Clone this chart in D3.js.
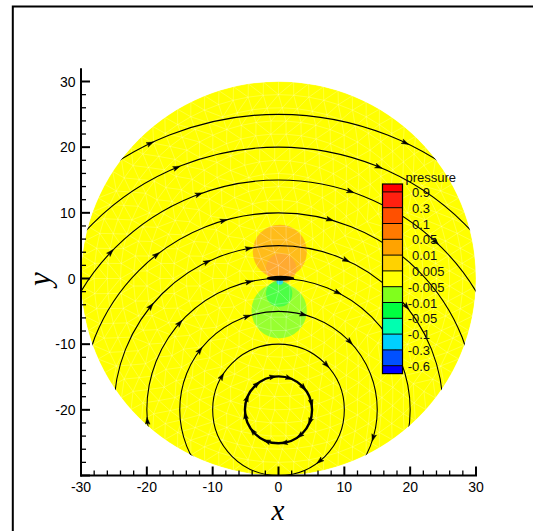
<!DOCTYPE html>
<html><head><meta charset="utf-8">
<script src="https://cdn.jsdelivr.net/npm/d3@7"></script>
<style>html,body{margin:0;padding:0;background:#fff;} svg{display:block;}</style>
</head><body>
<svg id="chart" width="533" height="531"></svg>
<script>
// Pressure contour levels of the legend, top to bottom
const levels = [0.9, 0.3, 0.1, 0.05, 0.01, 0.005, -0.005, -0.01, -0.05, -0.1, -0.3, -0.6];
const levelLabels = ["0.9", "0.3", "0.1", "0.05", "0.01", "0.005", "-0.005", "-0.01", "-0.05", "-0.1", "-0.3", "-0.6"];
// Flood colours: above 0.9, each interval between levels, below -0.6
const bandColors = ["#ff0000", "#ff2010", "#ff5000", "#ff7a00", "#ffa300", "#ffd200", "#ffff00",
                    "#80ff1c", "#00ff40", "#00ffb0", "#00d0ff", "#0050ff", "#0000ff"];

// Axis ticks
const xTicks = [-30, -20, -10, 0, 10, 20, 30];
const xTickLabels = ["-30", "-20", "-10", "0", "10", "20", "30"];
const yTicks = [-20, -10, 0, 10, 20, 30];
const yTickLabels = ["-20", "-10", "0", "10", "20", "30"];

// Computational domain: disk of radius 30 about the origin
const domainRadius = 30;

// Pressure regions around the dipole at the origin (centre x, y, radius, pressure)
const pressureBlobs = [
  { cx: 0.2, cy: 4.1, r: 4.1, p: 0.02 },
  { cx: 0.4, cy: 1.5, r: 2.3, p: 0.06 },
  { cx: 0.1, cy: -4.9, r: 4.2, p: -0.007 },
  { cx: 0.1, cy: -2.3, r: 2.0, p: -0.02 },
  { cx: 0.2, cy: -0.45, r: 0.5, p: -0.15 }
];
// Dense streamline core at the dipole (centre x, y, half-width, half-height)
const dipoleCore = [0.3, 0.05, 2.1, 0.38];

// Streamlines: circles about the vortex centre, clipped to the domain
const vortexCenter = [0, -20];
const streamRadii = [10, 15, 20, 25, 30, 35, 40, 45];
const vortexRingRadius = 5.1;

// Arrowheads along streamlines: [radius, angle in degrees about the vortex centre]
const streamArrows = [
  [45, 115.7], [45, 64.7],
  [40, 112.8], [40, 67.7],
  [35, 136.8], [35, 110.3], [35, 71.9], [35, 47],
  [30, 128.2], [30, 106.2], [30, 75],
  [25, 141], [25, 115.8], [25, 100.5], [25, 65.8], [25, 39],
  [20, 185], [20, 138.8], [20, 103], [20, 63.3],
  [15, 208.6], [15, 143], [15, 108.6], [15, 75.6], [15, 43.9], [15, -16.3],
  [10, 149.7], [10, 43.4], [10, -51],
  [5.1, 100], [5.1, 72], [5.1, 42], [5.1, 12], [5.1, -20], [5.1, -50], [5.1, -80],
  [5.1, -110], [5.1, -140], [5.1, -170], [5.1, 160], [5.1, 130]
];

const svg = d3.select("#chart");
const x = d3.scaleLinear().domain([-30, 30]).range([81, 476]);
const y = d3.scaleLinear().domain([-30, 30]).range([475.5, 81.5]);
const kx = x(1) - x(0), ky = y(0) - y(1);

function bandColor(p) {
  const i = levels.findIndex(l => p > l);
  return bandColors[i < 0 ? bandColors.length - 1 : i];
}

// Outer frame
svg.append("rect").attr("x", 12.8).attr("y", 6.5).attr("width", 600).attr("height", 600)
  .attr("fill", "none").attr("stroke", "#000").attr("stroke-width", 2);

// Clip to the domain disk
svg.append("defs").append("clipPath").attr("id", "disk")
  .append("ellipse").attr("cx", x(0)).attr("cy", y(0))
  .attr("rx", domainRadius * kx).attr("ry", domainRadius * ky);

const plot = svg.append("g").attr("clip-path", "url(#disk)");

// Background flood (pressure near zero)
plot.append("ellipse").attr("cx", x(0)).attr("cy", y(0))
  .attr("rx", domainRadius * kx).attr("ry", domainRadius * ky)
  .attr("fill", bandColor(0));

// Contour regions near the dipole, rendered translucent
const blobOpacity = [0.8, 0.5, 0.9, 0.6, 0.85];
const blobs = plot.append("g");
blobs.selectAll("ellipse.blob").data(pressureBlobs).join("ellipse").attr("class", "blob")
  .attr("cx", d => x(d.cx)).attr("cy", d => y(d.cy))
  .attr("rx", d => d.r * kx).attr("ry", d => d.r * ky)
  .attr("fill", d => bandColor(d.p))
  .attr("fill-opacity", (d, i) => blobOpacity[i]);
blobs.selectAll("ellipse.haze").data(pressureBlobs.slice(0, 3)).join("ellipse").attr("class", "haze")
  .attr("cx", d => x(d.cx)).attr("cy", d => y(d.cy))
  .attr("rx", d => d.r * kx).attr("ry", d => d.r * ky)
  .attr("fill", "#ffffff").attr("fill-opacity", 0.1);

// Triangular mesh of the domain (rings of nodes)
const nodes = [[x(0), y(0)]];
for (let i = 1; i <= 15; i++) {
  const rr = i * 2;
  const n = Math.max(6, Math.round(2 * Math.PI * rr / 2.3));
  const off = (i % 2) * 0.5;
  for (let j = 0; j < n; j++) {
    const a = (j + off) / n * 2 * Math.PI;
    nodes.push([x(rr * Math.cos(a)), y(rr * Math.sin(a))]);
  }
}
const delaunay = d3.Delaunay.from(nodes);
plot.append("path").attr("d", delaunay.render())
  .attr("fill", "none").attr("stroke", "#ffffff").attr("stroke-opacity", 0.4).attr("stroke-width", 0.6);

// Streamlines
const vcx = x(vortexCenter[0]), vcy = y(vortexCenter[1]);
plot.selectAll("ellipse.stream").data(streamRadii).join("ellipse").attr("class", "stream")
  .attr("cx", vcx).attr("cy", vcy).attr("rx", r => r * kx).attr("ry", r => r * ky)
  .attr("fill", "none").attr("stroke", "#000").attr("stroke-width", 1.1);
plot.append("ellipse")
  .attr("cx", vcx).attr("cy", vcy).attr("rx", vortexRingRadius * kx).attr("ry", vortexRingRadius * ky)
  .attr("fill", "none").attr("stroke", "#000").attr("stroke-width", 2.4);

// Arrowheads (clockwise flow about the vortex)
function arrowPath(d) {
  const t = d[1] * Math.PI / 180, r = d[0];
  const px = x(vortexCenter[0] + r * Math.cos(t)), py = y(vortexCenter[1] + r * Math.sin(t));
  const dx = Math.sin(t), dy = Math.cos(t);
  const L = 4, B = 3.2, W = 2.4, N = 1.6;
  const tip = [px + dx * L, py + dy * L];
  const lft = [px - dx * B - dy * W, py - dy * B + dx * W];
  const rgt = [px - dx * B + dy * W, py - dy * B - dx * W];
  const nch = [px - dx * N, py - dy * N];
  return `M${tip}L${lft}L${nch}L${rgt}Z`;
}
plot.selectAll("path.arrow").data(streamArrows).join("path").attr("class", "arrow")
  .attr("d", arrowPath).attr("fill", "#000").attr("stroke", "#000").attr("stroke-width", 0.5);

// Dipole core
plot.append("ellipse").attr("cx", x(dipoleCore[0])).attr("cy", y(dipoleCore[1]))
  .attr("rx", dipoleCore[2] * kx).attr("ry", dipoleCore[3] * ky).attr("fill", "#000");

// Axes
const axisTop = y(32);
svg.append("line").attr("x1", x(-30)).attr("x2", x(-30)).attr("y1", axisTop).attr("y2", y(-30) + 1)
  .attr("stroke", "#000").attr("stroke-width", 2);
svg.append("line").attr("x1", x(-30) - 1).attr("x2", x(30) + 1).attr("y1", y(-30)).attr("y2", y(-30))
  .attr("stroke", "#000").attr("stroke-width", 2);

const minor = d3.range(-30, 30.1, 2);
svg.selectAll("line.xt").data(minor).join("line").attr("class", "xt")
  .attr("x1", v => x(v)).attr("x2", v => x(v))
  .attr("y1", y(-30)).attr("y2", v => y(-30) - (v % 10 === 0 ? 9 : 5))
  .attr("stroke", "#000").attr("stroke-width", v => v % 10 === 0 ? 2 : 1.3);
svg.selectAll("line.yt").data(minor).join("line").attr("class", "yt")
  .attr("y1", v => y(v)).attr("y2", v => y(v))
  .attr("x1", x(-30)).attr("x2", v => x(-30) + (v % 10 === 0 ? 9 : 5))
  .attr("stroke", "#000").attr("stroke-width", v => v % 10 === 0 ? 2 : 1.3);

const font = "'Liberation Sans', Arial, sans-serif";
svg.selectAll("text.xl").data(xTicks).join("text").attr("class", "xl")
  .attr("x", v => x(v)).attr("y", 491.5).attr("text-anchor", "middle")
  .attr("font-family", font).attr("font-size", 14).text((v, i) => xTickLabels[i]);
svg.selectAll("text.yl").data(yTicks).join("text").attr("class", "yl")
  .attr("x", 75.5).attr("y", v => y(v) + 5).attr("text-anchor", "end")
  .attr("font-family", font).attr("font-size", 14).text((v, i) => yTickLabels[i]);

const serif = "'Liberation Serif', 'Times New Roman', serif";
svg.append("text").attr("x", 278).attr("y", 520).attr("text-anchor", "middle")
  .attr("font-family", serif).attr("font-style", "italic").attr("font-size", 29).text("x");
svg.append("text").attr("transform", "translate(50,279) rotate(-90)").attr("text-anchor", "middle")
  .attr("font-family", serif).attr("font-style", "italic").attr("font-size", 31).text("y");

// Legend
const lgX = 382.5, lgW = 20, lgTop = 184, step = 15.8;
const ly = d3.scaleLinear().domain([0, levels.length - 1]).range([lgTop + step / 2, lgTop + step / 2 + step * (levels.length - 1)]);
const bandEdges = [lgTop, ...levels.map((l, i) => ly(i)), ly(levels.length - 1) + step / 2];
const lg = svg.append("g");
lg.selectAll("rect").data(bandColors).join("rect")
  .attr("x", lgX).attr("width", lgW)
  .attr("y", (c, i) => bandEdges[i]).attr("height", (c, i) => bandEdges[i + 1] - bandEdges[i])
  .attr("fill", c => c);
lg.selectAll("line").data(levels).join("line")
  .attr("x1", lgX).attr("x2", lgX + lgW).attr("y1", (l, i) => ly(i)).attr("y2", (l, i) => ly(i))
  .attr("stroke", "#000").attr("stroke-width", 1);
lg.append("rect").attr("x", lgX).attr("y", lgTop).attr("width", lgW).attr("height", bandEdges[bandEdges.length - 1] - lgTop)
  .attr("fill", "none").attr("stroke", "#000").attr("stroke-width", 1.2);
lg.selectAll("text.lv").data(levels).join("text").attr("class", "lv")
  .attr("x", 412).attr("dx", l => l < 0 ? -4.3 : 0).attr("y", (l, i) => ly(i) + 5)
  .attr("font-family", font).attr("font-size", 13).attr("fill", "#111")
  .text((l, i) => levelLabels[i]);
lg.append("text").attr("x", 405.5).attr("y", 181.5).attr("font-family", font).attr("font-size", 13)
  .attr("fill", "#111").text("pressure");
</script>
</body></html>
